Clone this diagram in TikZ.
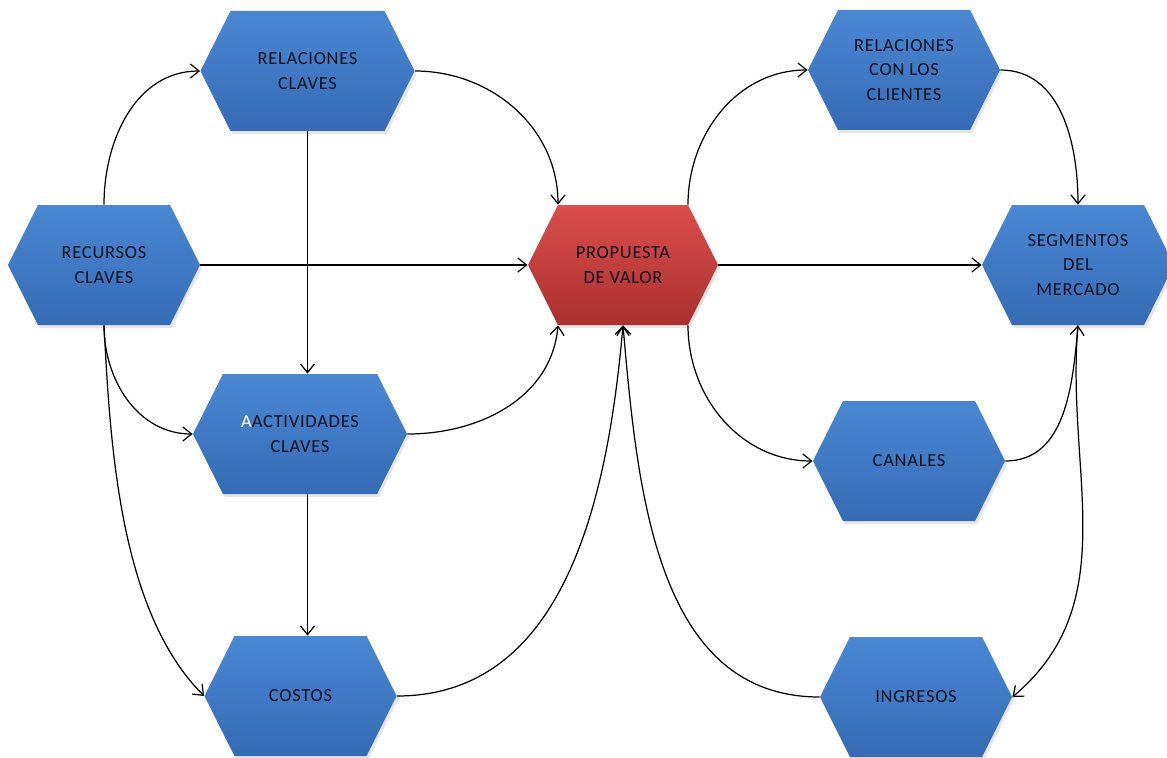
\documentclass[tikz,border=0pt]{standalone}
\usepackage{fontspec}
\setmainfont[LetterSpace=4]{Carlito}
\usepackage{tikz}
\usetikzlibrary{shapes.symbols, arrows.meta, shadows}
\definecolor{HexBlueTop}{RGB}{74,136,212}
\definecolor{HexBlueBot}{RGB}{54,106,180}
\definecolor{HexRedTop}{RGB}{218,78,76}
\definecolor{HexRedBot}{RGB}{170,48,46}
\definecolor{HexText}{RGB}{16,18,30}

\begin{document}
\begin{tikzpicture}[
      hexbox/.style={signal, signal to=east and west, signal pointer angle=127,
                     minimum width=3.84cm, minimum height=2.4cm, inner sep=0pt,
                     top color=HexBlueTop, bottom color=HexBlueBot,
                     align=center, text=HexText,
                     font=\fontsize{10.5}{14}\selectfont,
                     drop shadow={opacity=0.2, shadow xshift=0.04cm,
                                  shadow yshift=-0.06cm}},
      widebox/.style={hexbox, minimum width=4.28cm},
      redbox/.style={hexbox, minimum width=3.8cm,
                     top color=HexRedTop, bottom color=HexRedBot},
      arr/.style={-{Straight Barb[length=5pt, width=8pt]}, line width=0.7pt}
    ]
    \useasboundingbox (0,0) rectangle (23.34,15.14);

    % left side
    \node[widebox] (relcla) at (6.15, 13.72) {RELACIONES\\CLAVES};
    \node[hexbox]  (recur)  at (2.08, 9.84)  {RECURSOS\\CLAVES};
    \node[widebox] (activ)  at (6.00, 6.46)  {{\color{white}A}ACTIVIDADES\\CLAVES};
    \node[hexbox]  (costos) at (6.01, 1.22)  {COSTOS};

    % centre
    \node[redbox]  (prop)   at (12.46, 9.84) {PROPUESTA\\DE VALOR};

    % right side
    \node[hexbox]  (relcli) at (18.08, 13.74) {RELACIONES\\CON LOS\\CLIENTES};
    \node[hexbox]  (segm)   at (21.56, 9.84)  {SEGMENTOS\\DEL\\MERCADO};
    \node[hexbox]  (canal)  at (18.18, 5.92)  {CANALES};
    \node[hexbox]  (ingr)   at (18.32, 1.20)  {INGRESOS};

    \draw[arr] (recur.north) to[out=90, in=180] (relcla.west);
    \draw[arr] (recur.east) -- (prop.west);
    \draw[arr] (recur.south) to[out=-90, in=180] (activ.west);
    \draw[arr] (recur.south) to[out=-87, in=135, looseness=0.8] (costos.west);

    \draw[arr] (relcla.south) -- (relcla.south |- activ.north);
    \draw[arr] (relcla.south |- activ.south) -- (relcla.south |- costos.north);

    \draw[arr] (relcla.east) to[out=0, in=90] ([xshift=-1.3cm]prop.north);
    \draw[arr] (activ.east) to[out=0, in=-95] ([xshift=-1.3cm]prop.south);
    \draw[arr] (costos.east) to[out=0, in=-95] (prop.south);
    \draw[arr] (ingr.west) to[out=180, in=-85] (prop.south);

    \draw[arr] ([xshift=1.3cm]prop.north) to[out=90, in=180] (relcli.west);
    \draw[arr] (prop.east) -- (segm.west);
    \draw[arr] ([xshift=1.3cm]prop.south) to[out=-90, in=180] (canal.west);

    \draw[arr] (relcli.east) to[out=0, in=90] (segm.north);
    \draw[arr] (canal.east) to[out=0, in=-95] (segm.south);
    \draw[arr] (segm.south) to[out=-95, in=40] (ingr.east);
  \end{tikzpicture}
\end{document}
